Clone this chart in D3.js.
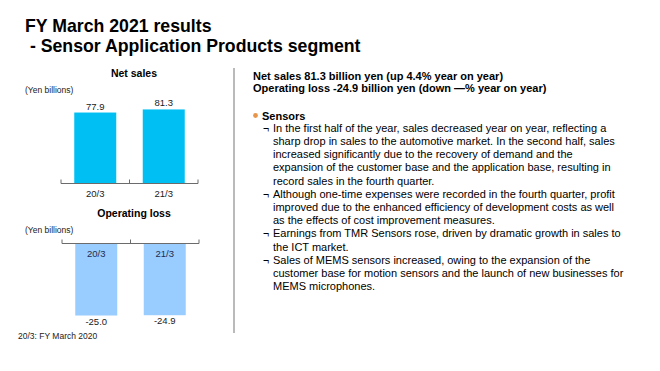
<!DOCTYPE html>
<html>
<head>
<meta charset="utf-8">
<script src="https://cdn.jsdelivr.net/npm/d3@7"></script>
<style>
  html, body { margin: 0; padding: 0; background: #fff; }
  svg { display: block; font-family: "Liberation Sans", Arial, sans-serif; }
</style>
</head>
<body>
<div id="chart"></div>
<script>
// data
var categories = ['20/3', '21/3'];
var netSales   = [77.9, 81.3];
var opLoss     = [-25.0, -24.9];

var summaryLines = [
    'Net sales 81.3 billion yen (up 4.4% year on year)',
    'Operating loss -24.9 billion yen (down \u2014% year on year)'
];
var bulletItems = [
    ['In the first half of the year, sales decreased year on year, reflecting a',
     'sharp drop in sales to the automotive market. In the second half, sales',
     'increased significantly due to the recovery of demand and the',
     'expansion of the customer base and the application base, resulting in',
     'record sales in the fourth quarter.'],
    ['Although one-time expenses were recorded in the fourth quarter, profit',
     'improved due to the enhanced efficiency of development costs as well',
     'as the effects of cost improvement measures.'],
    ['Earnings from TMR Sensors rose, driven by dramatic growth in sales to',
     'the ICT market.'],
    ['Sales of MEMS sensors increased, owing to the expansion of the',
     'customer base for motion sensors and the launch of new businesses for',
     'MEMS microphones.']
];

var W = 660, H = 371;
var svg = d3.select('#chart').append('svg').attr('width', W).attr('height', H);

// Title
svg.append('text').attr('x', 25).attr('y', 32)
    .attr('font-size', 17.7).attr('font-weight', 'bold').attr('fill', '#000')
    .text('FY March 2021 results');
svg.append('text').attr('x', 25).attr('y', 52)
    .attr('font-size', 17.7).attr('font-weight', 'bold').attr('fill', '#000')
    .attr('xml:space', 'preserve')
    .text(' - Sensor Application Products segment');

function drawBars(opts) {
    var g = svg.append('g');
    var x = d3.scaleBand().domain(categories)
        .range([opts.x0, opts.x1]).paddingInner(0.387).paddingOuter(0.1935);
    var y = d3.scaleLinear().domain(opts.domain).range(opts.range);
    var y0 = y(0);

    g.append('text').attr('x', 134).attr('y', opts.titleY)
        .attr('text-anchor', 'middle').attr('font-size', 10.5).attr('font-weight', 'bold')
        .text(opts.title);
    g.append('text').attr('x', 25).attr('y', opts.titleY + 16)
        .attr('font-size', 8.5).attr('fill', '#222')
        .text('(Yen billions)');

    g.selectAll('rect.bar').data(opts.values).join('rect')
        .attr('class', 'bar')
        .attr('x', function(d, i){ return x(categories[i]); })
        .attr('width', x.bandwidth())
        .attr('y', function(d){ return Math.min(y(d), y0); })
        .attr('height', function(d){ return Math.abs(y(d) - y0); })
        .attr('fill', opts.color);

    // axis line with boundary ticks (pointing up)
    var step = x.step(), bw = x.bandwidth();
    var bounds = [opts.x0, x(categories[1]) - (step - bw) / 2, opts.x1];
    g.append('line').attr('x1', opts.x0).attr('x2', opts.x1)
        .attr('y1', y0).attr('y2', y0).attr('stroke', '#6b6b6b').attr('stroke-width', 1);
    g.selectAll('line.tk').data(bounds).join('line').attr('class', 'tk')
        .attr('x1', function(d){ return d; }).attr('x2', function(d){ return d; })
        .attr('y1', y0 - 4).attr('y2', y0)
        .attr('stroke', '#6b6b6b').attr('stroke-width', 1);

    // category labels
    g.selectAll('text.cat').data(categories).join('text').attr('class', 'cat')
        .attr('x', function(d){ return x(d) + bw / 2; })
        .attr('y', y0 + opts.catDy)
        .attr('text-anchor', 'middle').attr('font-size', 9.5).attr('fill', opts.catColor)
        .text(function(d){ return d; });

    // value labels
    g.selectAll('text.val').data(opts.values).join('text').attr('class', 'val')
        .attr('x', function(d, i){ return x(categories[i]) + bw / 2; })
        .attr('y', function(d){ return d >= 0 ? y(d) - 3 : y(d) + 9; })
        .attr('text-anchor', 'middle').attr('font-size', 9.5).attr('fill', '#1a1a1a')
        .text(function(d){ return d.toFixed(1); });
}

drawBars({
    title: 'Net sales', titleY: 77, values: netSales, color: '#00BFF3',
    x0: 61, x1: 198, domain: [0, 100], range: [183.5, 92.4], catDy: 13, catColor: '#1a1a1a'
});
drawBars({
    title: 'Operating loss', titleY: 217, values: opLoss, color: '#99CCFF',
    x0: 62, x1: 199, domain: [-30, 0], range: [329.9, 243.5], catDy: 13, catColor: '#1f2d4d'
});

svg.append('text').attr('x', 18).attr('y', 339)
    .attr('font-size', 8.5).attr('fill', '#222')
    .text('20/3: FY March 2020');

// divider
svg.append('line').attr('x1', 234).attr('x2', 234).attr('y1', 68).attr('y2', 333)
    .attr('stroke', '#8c8c8c').attr('stroke-width', 1.2);

// right text
svg.selectAll('text.sum').data(summaryLines).join('text').attr('class', 'sum')
    .attr('x', 253).attr('y', function(d, i){ return 79.5 + i * 12.8; })
    .attr('font-size', 11).attr('font-weight', 'bold')
    .text(function(d){ return d; });

svg.append('circle').attr('cx', 255.5).attr('cy', 115.5).attr('r', 2.4).attr('fill', '#E8954A');
svg.append('text').attr('x', 262).attr('y', 119.5)
    .attr('font-size', 11).attr('font-weight', 'bold').text('Sensors');

var lineY = 131.7, lh = 13.2;
bulletItems.forEach(function(item){
    item.forEach(function(line, j){
        if (j === 0) {
            svg.append('text').attr('x', 263).attr('y', lineY)
                .attr('font-size', 10.5).text('\u00AC');
        }
        svg.append('text').attr('x', 273).attr('y', lineY)
            .attr('font-size', 11).text(line);
        lineY += lh;
    });
});
</script>
</body>
</html>
